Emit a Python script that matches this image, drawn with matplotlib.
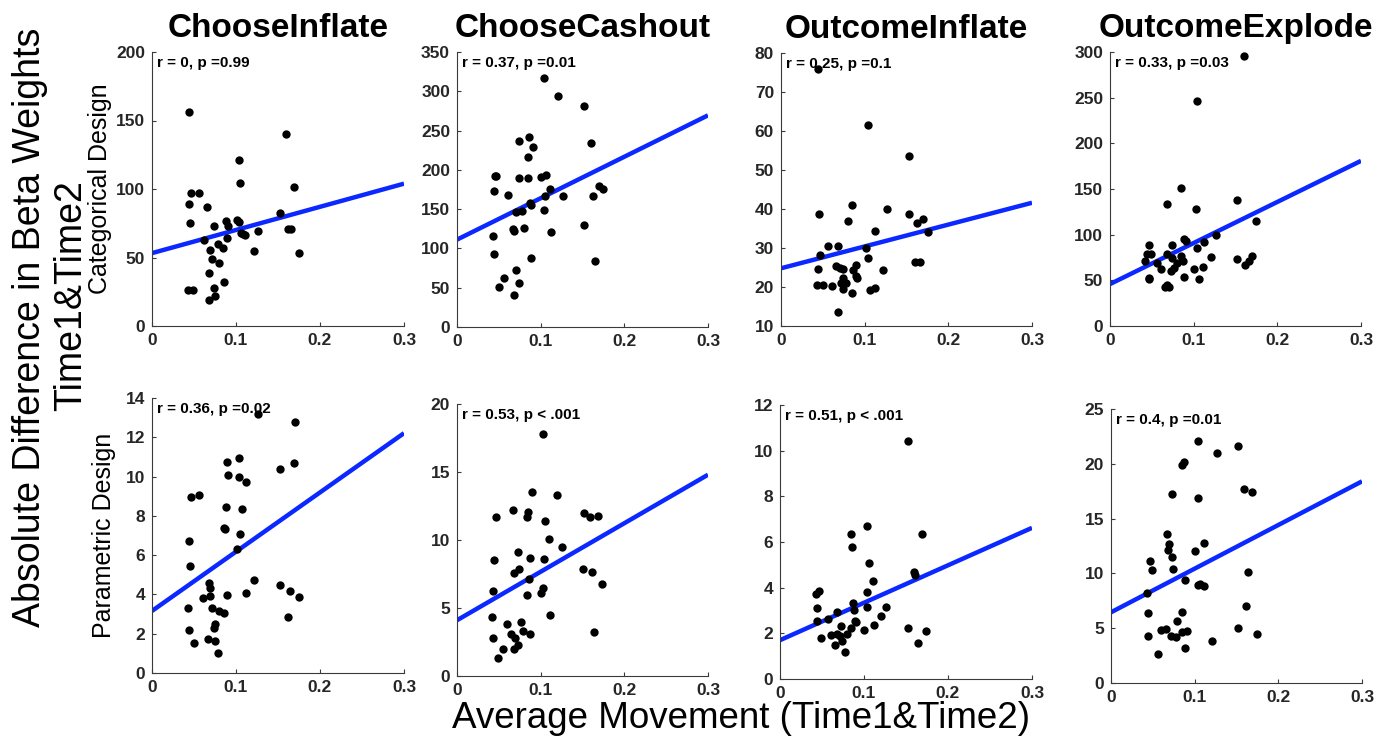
"""Movement vs. beta-weight change, categorical and parametric designs."""

import matplotlib
matplotlib.use("Agg")
import matplotlib.pyplot as plt

FONT = ["Liberation Sans", "DejaVu Sans"]
plt.rcParams["font.family"] = FONT

# ---- data ----
titles = ["ChooseInflate", "ChooseCashout", "OutcomeInflate", "OutcomeExplode"]
row_labels = ["Categorical Design", "Parametric Design"]

stats = [
    "r = 0, p =0.99", "r = 0.37, p =0.01", "r = 0.25, p =0.1", "r = 0.33, p =0.03",
    "r = 0.36, p =0.02", "r = 0.53, p < .001", "r = 0.51, p < .001", "r = 0.4, p =0.01",
]

ylims = [(0, 200), (0, 350), (10, 80), (0, 300), (0, 14), (0, 20), (0, 12), (0, 25)]
ysteps = [50, 50, 10, 50, 2, 5, 2, 5]

# fitted line values at movement 0 and 0.3
fit_start = [53.2, 111.2, 24.8, 45.9, 3.16, 4.1, 1.7, 6.45]
fit_end = [103.9, 269.4, 41.6, 180.8, 12.21, 14.8, 6.62, 18.4]

ci_cat_x = [0.0446, 0.0466, 0.0565, 0.0437, 0.066, 0.0449, 0.0736, 0.0875, 0.0907, 0.101,
            0.104, 0.0891, 0.0616, 0.078, 0.0847, 0.0688, 0.0716, 0.0795, 0.0676, 0.0855,
            0.074, 0.0433, 0.0493, 0.0748, 0.0684, 0.103, 0.1046, 0.1054, 0.108, 0.111,
            0.1217, 0.1265, 0.152, 0.1595, 0.162, 0.1654, 0.169, 0.1747]
ci_cat_y = [156.3, 97.0, 96.8, 88.8, 86.6, 75.1, 72.9, 76.8, 72.9, 77.3,
            76.1, 64.4, 62.9, 59.8, 56.8, 55.4, 48.8, 46.1, 38.8, 32.2,
            28.0, 26.1, 26.1, 21.7, 18.8, 121.5, 104.1, 67.8, 67.3, 66.1,
            54.6, 69.3, 82.7, 140.0, 70.5, 71.0, 101.7, 53.4]

cc_cat_x = [0.1037, 0.1212, 0.152, 0.0739, 0.0858, 0.091, 0.0846, 0.1597, 0.0453, 0.0469,
            0.0743, 0.0846, 0.1009, 0.1069, 0.0441, 0.0612, 0.1112, 0.1049, 0.127, 0.1692,
            0.1748, 0.162, 0.0874, 0.0882, 0.07, 0.0779, 0.1037, 0.0668, 0.0683, 0.0795,
            0.1124, 0.152, 0.0425, 0.0437, 0.089, 0.1649, 0.0711, 0.056, 0.0497, 0.0739,
            0.0687]
cc_cat_y = [317.0, 294.0, 281.7, 236.3, 241.8, 228.7, 216.4, 233.8, 191.8, 191.8,
            190.0, 189.6, 191.3, 193.0, 173.0, 168.4, 175.2, 166.3, 167.2, 179.5,
            175.6, 167.2, 157.8, 155.3, 146.4, 147.2, 149.3, 124.3, 122.2, 126.0,
            120.5, 130.2, 115.8, 93.3, 88.2, 84.0, 73.0, 62.4, 51.3, 56.4,
            41.2]

oi_cat_x = [0.0442, 0.1039, 0.153, 0.0454, 0.0853, 0.0797, 0.1271, 0.1526, 0.170, 0.1625,
            0.1757, 0.1127, 0.056, 0.068, 0.047, 0.102, 0.1043, 0.0442, 0.0653, 0.0701,
            0.0745, 0.0892, 0.086, 0.0892, 0.0908, 0.0741, 0.122, 0.1598, 0.1665, 0.043,
            0.0502, 0.0613, 0.0717, 0.078, 0.0741, 0.1067, 0.1119, 0.0853, 0.0685]
oi_cat_y = [75.8, 61.6, 53.5, 38.8, 40.9, 37.0, 39.9, 38.8, 37.4, 36.3,
            34.2, 34.4, 30.6, 30.5, 28.2, 30.0, 27.4, 24.7, 25.5, 24.8,
            24.5, 25.7, 24.4, 22.9, 22.4, 22.3, 24.4, 26.5, 26.5, 20.4,
            20.6, 20.3, 21.0, 21.0, 19.5, 19.3, 19.7, 18.5, 13.6]

oe_cat_x = [0.1602, 0.1036, 0.0845, 0.0677, 0.1032, 0.1522, 0.175, 0.1267, 0.0884, 0.0904,
            0.112, 0.0462, 0.0741, 0.104, 0.0438, 0.0494, 0.0685, 0.0853, 0.0741, 0.0873,
            0.1211, 0.1518, 0.1693, 0.1657, 0.1618, 0.0422, 0.0558, 0.0797, 0.0765, 0.0725,
            0.0606, 0.1004, 0.1108, 0.0462, 0.0462, 0.0884, 0.1064, 0.0661, 0.0705, 0.0681]
oe_cat_y = [295.2, 246.4, 150.9, 133.7, 127.6, 138.1, 114.8, 99.5, 94.8, 92.9,
            91.5, 88.9, 88.2, 84.9, 78.7, 78.7, 78.7, 76.5, 74.3, 71.4,
            75.1, 73.3, 76.5, 71.4, 66.3, 71.1, 69.2, 68.5, 63.8, 60.1,
            62.3, 62.3, 64.1, 52.8, 51.0, 53.6, 51.0, 42.3, 42.3, 44.8]

ci_par_x = [0.1265, 0.1703, 0.1035, 0.0891, 0.1691, 0.1524, 0.0907, 0.1035, 0.1114, 0.047,
            0.0565, 0.0875, 0.1066, 0.0852, 0.0867, 0.1043, 0.0446, 0.1007, 0.045, 0.1214,
            0.068, 0.0692, 0.1524, 0.1122, 0.0891, 0.1647, 0.1751, 0.0688, 0.0613, 0.043,
            0.0716, 0.08, 0.0852, 0.0748, 0.0744, 0.1624, 0.0442, 0.0665, 0.0752, 0.0501,
            0.078]
ci_par_y = [13.18, 12.77, 10.94, 10.73, 10.71, 10.37, 10.09, 10.0, 9.71, 8.98,
            9.05, 8.44, 8.33, 7.38, 7.35, 7.06, 6.72, 6.33, 5.43, 4.74,
            4.59, 4.32, 4.49, 4.08, 3.98, 4.15, 3.88, 3.91, 3.81, 3.32,
            3.32, 3.16, 3.06, 2.52, 2.31, 2.86, 2.21, 1.73, 1.63, 1.55,
            1.02]

cc_par_x = [0.1029, 0.0898, 0.12, 0.0668, 0.085, 0.0842, 0.0461, 0.1514, 0.1593, 0.1689,
            0.1057, 0.1105, 0.126, 0.0731, 0.0437, 0.0878, 0.1037, 0.0739, 0.0679, 0.151,
            0.1613, 0.1736, 0.0866, 0.0433, 0.1029, 0.1001, 0.0838, 0.1112, 0.0417, 0.06,
            0.0763, 0.0648, 0.0787, 0.0878, 0.0699, 0.0429, 0.0735, 0.0679, 0.0548, 0.0489,
            0.1637]
cc_par_y = [17.78, 13.51, 13.32, 12.2, 12.07, 11.71, 11.66, 12.02, 11.68, 11.78,
            11.37, 10.1, 9.46, 9.12, 8.54, 8.66, 8.61, 7.9, 7.61, 7.9,
            7.63, 6.8, 7.12, 6.24, 6.44, 6.1, 5.93, 4.51, 4.34, 3.83,
            3.95, 3.12, 3.29, 3.07, 2.8, 2.76, 2.27, 1.95, 2.0, 1.29,
            3.22]

oi_par_x = [0.152, 0.1032, 0.085, 0.1687, 0.0857, 0.1063, 0.1111, 0.1591, 0.1611, 0.0429,
            0.0464, 0.104, 0.0865, 0.1262, 0.1032, 0.0444, 0.0885, 0.0675, 0.0437, 0.0567,
            0.0893, 0.0908, 0.1206, 0.1115, 0.073, 0.152, 0.0841, 0.1004, 0.1742, 0.0492,
            0.0603, 0.0683, 0.0714, 0.0794, 0.0738, 0.0659, 0.1647, 0.0774]
oi_par_y = [10.41, 6.72, 6.33, 6.35, 5.77, 5.1, 4.29, 4.67, 4.57, 3.74,
            3.87, 3.8, 3.33, 3.17, 3.14, 3.13, 3.01, 2.93, 2.54, 2.61,
            2.52, 2.48, 2.74, 2.35, 2.32, 2.22, 2.22, 2.13, 2.1, 1.81,
            1.91, 1.96, 1.87, 1.96, 1.67, 1.48, 1.59, 1.2]

oe_par_x = [0.1036, 0.1516, 0.1266, 0.0873, 0.0845, 0.1595, 0.169, 0.0734, 0.1036, 0.0675,
            0.069, 0.1115, 0.0683, 0.1, 0.0734, 0.0464, 0.0496, 0.0742, 0.1643, 0.0429,
            0.0885, 0.104, 0.1068, 0.1111, 0.1619, 0.044, 0.0845, 0.079, 0.1516, 0.0595,
            0.0655, 0.0714, 0.0774, 0.0845, 0.0905, 0.044, 0.1746, 0.1206, 0.0885, 0.0556]
oe_par_y = [22.11, 21.62, 20.96, 20.19, 19.89, 17.67, 17.46, 17.21, 16.88, 13.6,
            12.68, 12.77, 12.14, 12.01, 11.47, 11.1, 10.34, 10.43, 10.1, 8.21,
            9.37, 8.94, 9.06, 8.88, 7.06, 6.39, 6.45, 5.69, 5.02, 4.87,
            4.96, 4.32, 4.17, 4.68, 4.77, 4.32, 4.47, 3.86, 3.19, 2.68]

xs = [ci_cat_x, cc_cat_x, oi_cat_x, oe_cat_x, ci_par_x, cc_par_x, oi_par_x, oe_par_x]
ys = [ci_cat_y, cc_cat_y, oi_cat_y, oe_cat_y, ci_par_y, cc_par_y, oi_par_y, oe_par_y]
xticks = [0, 0.1, 0.2, 0.3]
xticklabels = ["0", "0.1", "0.2", "0.3"]

# ---- layout (pixel boxes of each panel in a 1387x746 canvas) ----
W, H = 1387, 746
boxes = [
    (152, 52, 404, 326), (457, 52, 708, 327), (781, 53, 1032, 326), (1110, 52, 1361, 326),
    (152, 398, 404, 673), (457, 404, 708, 676), (780, 405, 1032, 679), (1111, 409, 1362, 683),
]
AXCOL = "#3a3a3a"

fig = plt.figure(figsize=(W / 100, H / 100), dpi=100)

for i in range(8):
    x0, y0, x1, y1 = boxes[i]
    ax = fig.add_axes([x0 / W, 1 - y1 / H, (x1 - x0) / W, (y1 - y0) / H])
    ax.scatter(xs[i], ys[i], s=36, color="black", zorder=3, linewidths=0)
    ax.plot([0, 0.3], [fit_start[i], fit_end[i]], color="#0a28ff", lw=3.2, zorder=2,
            solid_capstyle="butt")
    lo, hi = ylims[i]
    ax.set_xlim(0, 0.3)
    ax.set_ylim(lo, hi)
    ax.set_xticks(xticks)
    ax.set_xticklabels(xticklabels)
    step = ysteps[i]
    ax.set_yticks([lo + k * step for k in range(int(round((hi - lo) / step)) + 1)])
    for side in ("top", "right"):
        ax.spines[side].set_visible(False)
    for side in ("left", "bottom"):
        ax.spines[side].set_color(AXCOL)
        ax.spines[side].set_linewidth(0.8)
    ax.tick_params(direction="in", length=3, width=0.8, color=AXCOL, labelcolor="#262626",
                   labelsize=12.5, pad=5)
    for lab in ax.get_xticklabels() + ax.get_yticklabels():
        lab.set_fontweight("bold")
    ax.text(0.02, 0.985, stats[i], transform=ax.transAxes, ha="left", va="top",
            fontsize=11, fontweight="bold", color="black")
    if i < 4:
        ax.set_title(titles[i], fontsize=24, fontweight="bold", pad=11)

# row labels
fig.text(100 / W, 1 - 189 / H, row_labels[0], rotation=90, ha="center", va="center", fontsize=18)
fig.text(104 / W, 1 - 535 / H, row_labels[1], rotation=90, ha="center", va="center", fontsize=18)

# shared axis labels
fig.text(30 / W, 1 - 327 / H, "Absolute Difference in Beta Weights", rotation=90,
         ha="center", va="center", fontsize=27)
fig.text(71 / W, 1 - 296 / H, "Time1&Time2", rotation=90, ha="center", va="center", fontsize=27)
fig.text(741 / W, 1 - 718 / H, "Average Movement (Time1&Time2)", ha="center", va="center",
         fontsize=26.5)

fig.savefig("out.png", dpi=100)
